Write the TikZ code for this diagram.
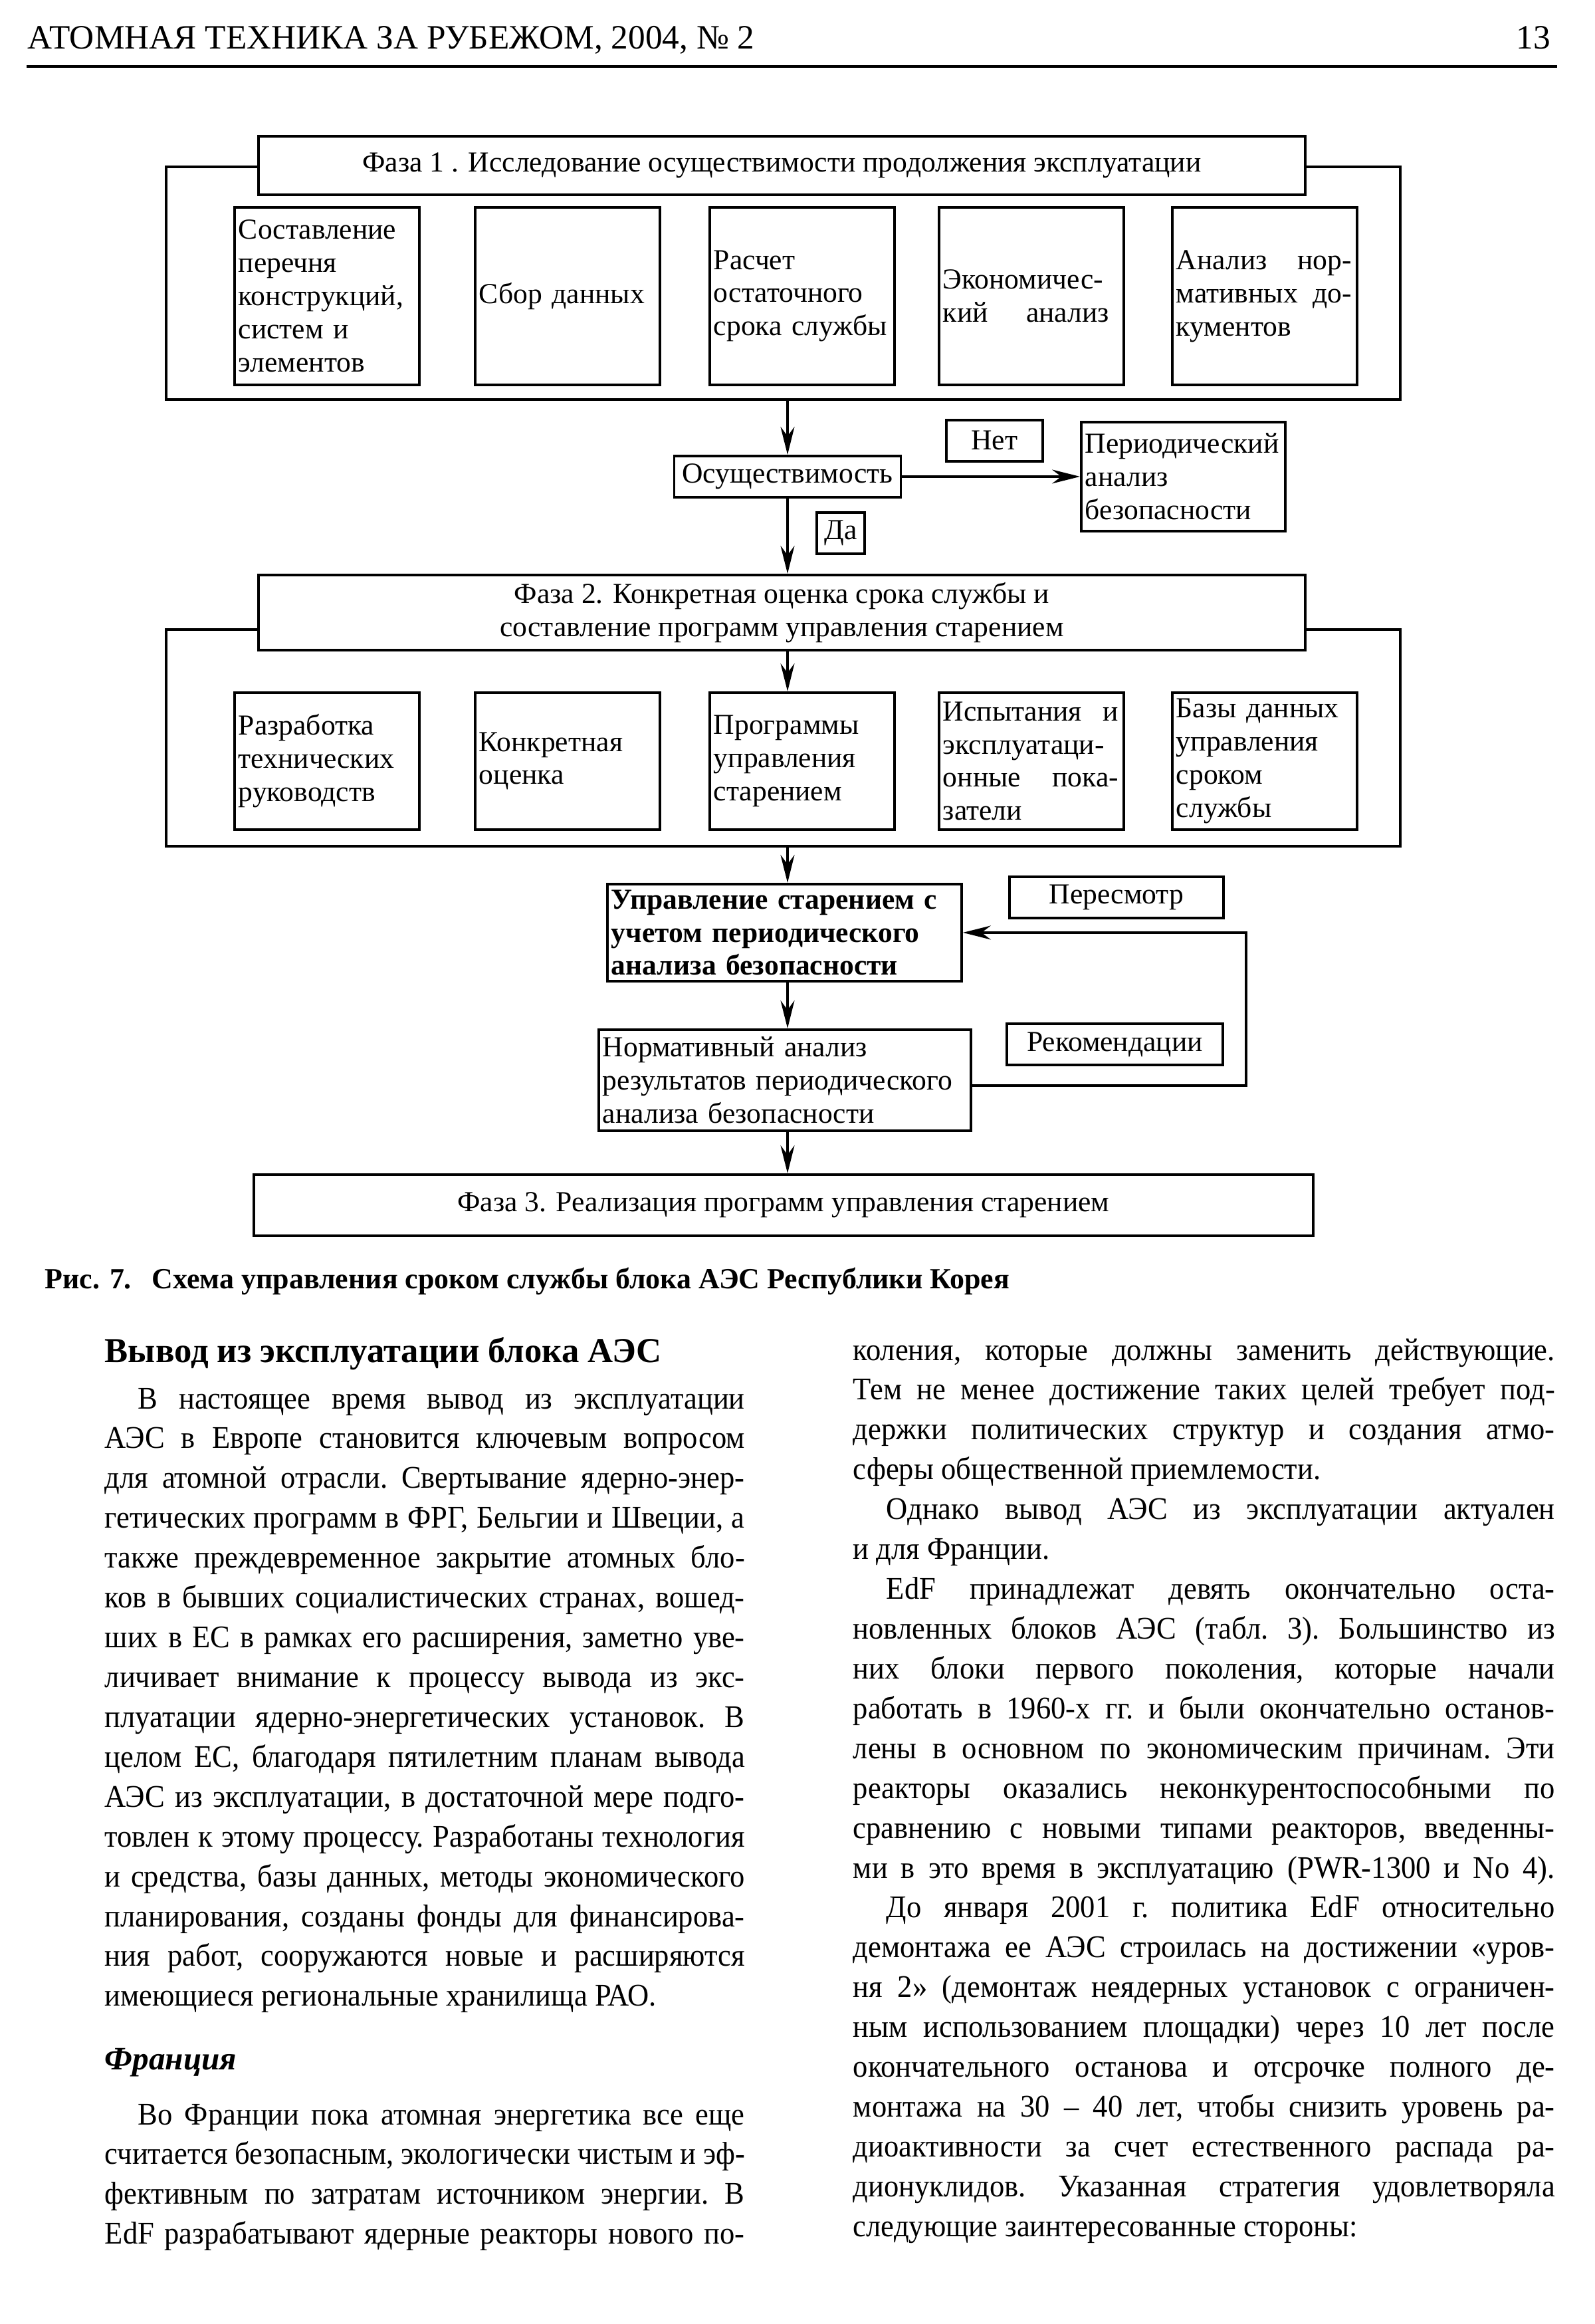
\documentclass[tikz,border=0pt]{standalone}
\usepackage{fontspec}
\setmainfont{Liberation Serif}
\newfontfamily\bodyfont{Liberation Serif}[FakeStretch=0.94]
\usetikzlibrary{arrows.meta, positioning, calc}

\newcommand{\headsize}{\fontsize{14.6}{16}\selectfont}
\newcommand{\boxsize}{\fontsize{12.4}{14.2}\selectfont}
\newcommand{\capsize}{\fontsize{12.5}{15}\selectfont}
\newcommand{\bodysize}{\bodyfont\fontsize{13.5}{17.05}\selectfont\frenchspacing}
% lines of the body text
\newcommand{\jl}[1]{\noindent\makebox[\linewidth][s]{#1}\par}
\newcommand{\il}[1]{\noindent\makebox[\linewidth][s]{\hspace*{0.5cm}#1}\par}
\newcommand{\el}[1]{\noindent\makebox[\linewidth][l]{#1}\par}

\begin{document}
\begin{tikzpicture}[line width=1pt,
  >={Stealth[length=4.2mm,width=2.1mm,inset=1.4mm]},
  every node/.style={font=\boxsize},
  box/.style={draw, line width=1.1pt, fill=white, inner ysep=0pt, inner xsep=0.06cm},
  phasebox/.style={box, anchor=north west, align=center},
  subbox/.style={box, anchor=north west, text width=2.66cm, align=left},
  tagbox/.style={box, anchor=north west, minimum height=0.62cm, align=center},
  plain/.style={inner sep=0pt, anchor=base west}]
\useasboundingbox (0,0) rectangle (24,-34.96);

%page head
\node[plain, font=\headsize] (hdr) at (0.40,-0.74) {АТОМНАЯ ТЕХНИКА ЗА РУБЕЖОМ, 2004, № 2};
\node[plain, anchor=base east, font=\headsize] (pg) at (23.35,-0.74) {13};
\draw[line width=1.3pt] (0.40,-1.00) -- (23.43,-1.00);

\coordinate (axis) at (11.85,0);

%phase 1
\coordinate (fr1nw) at (2.50,-2.51);
\coordinate (fr1se) at (21.07,-6.01);
\draw (fr1nw) rectangle (fr1se);
\node[phasebox, minimum width=15.75cm, minimum height=0.88cm] (ph1) at (3.87,-2.03)
  {Фаза 1 . Исследование осуществимости продолжения эксплуатации};
\foreach \n/\x/\t in {
    sA/3.51/{Составление\\перечня\\конструкций,\\систем и\\элементов},
    sB/7.13/{Сбор данных},
    sC/10.66/{Расчет\\остаточного\\срока службы},
    sD/14.11/{Экономичес-\\\makebox[2.5cm]{кий\hfill анализ}},
    sE/17.62/{\makebox[2.64cm]{Анализ\hfill нор-}\\\makebox[2.64cm]{мативных\hfill до-}\\кументов}
}
{
    \node[subbox, minimum height=2.67cm] (\n) at (\x,-3.10) {\t};
};

%feasibility
\node[box, anchor=north, minimum width=3.41cm, minimum height=0.62cm] (feas) at (axis |- 0,-6.84) {Осуществимость};
\draw[->] (axis |- fr1se) -- (feas.north);
\node[tagbox, minimum width=1.45cm] (no) at (14.22,-6.30) {Нет};
\node[box, anchor=north west, text width=2.95cm, minimum height=1.64cm, align=left] (psa) at (16.25,-6.33)
  {Периодический\\анализ\\безопасности};
\draw[->] (feas.east) -- (feas.east -| psa.west);
\node[tagbox, minimum width=0.72cm] (yes) at (12.27,-7.69) {Да};

%phase 2
\coordinate (fr2nw) at (2.50,-9.47);
\coordinate (fr2se) at (21.07,-12.73);
\draw (fr2nw) rectangle (fr2se);
\node[phasebox, minimum width=15.75cm, minimum height=1.13cm] (ph2) at (3.87,-8.63)
  {Фаза 2. Конкретная оценка срока службы и\\составление программ управления старением};
\draw[->] (feas.south) -- (axis |- ph2.north);
\foreach \n/\x/\t in {
    tA/3.51/{Разработка\\технических\\руководств},
    tB/7.13/{Конкретная\\оценка},
    tC/10.66/{Программы\\управления\\старением},
    tD/14.11/{\makebox[2.64cm]{Испытания\hfill и}\\эксплуатаци-\\\makebox[2.64cm]{онные\hfill пока-}\\затели},
    tE/17.62/{Базы данных\\управления\\сроком\\службы}
}
{
    \node[subbox, minimum height=2.06cm] (\n) at (\x,-10.40) {\t};
};
\draw[->] (axis |- ph2.south) -- (axis |- tC.north);

%ageing management
\node[box, anchor=north west, text width=5.21cm, minimum height=1.46cm, align=left, font=\boxsize\bfseries] (mgmt) at (9.12,-13.28)
  {Управление старением с\\учетом периодического\\анализа безопасности};
\draw[->] (axis |- fr2se) -- (axis |- mgmt.north);
\node[tagbox, minimum width=3.22cm] (rev) at (15.17,-13.17) {Пересмотр};
\node[box, anchor=north west, text width=5.48cm, minimum height=1.52cm, align=left] (norm) at (8.99,-15.47)
  {Нормативный анализ\\результатов периодического\\анализа безопасности};
\draw[->] (axis |- mgmt.south) -- (axis |- norm.north);
\node[tagbox, minimum width=3.25cm] (rec) at (15.13,-15.38) {Рекомендации};
\coordinate (fbk) at (18.75,-16.33);
\draw[->] (norm.east |- fbk) -- (fbk) |- (mgmt.east);

%phase 3
\node[phasebox, minimum width=15.94cm, minimum height=0.92cm] (ph3) at (3.80,-17.65)
  {Фаза 3. Реализация программ управления старением};
\draw[->] (axis |- norm.south) -- (axis |- ph3.north);

%caption
\node[plain, font=\capsize\bfseries] (cap) at (0.66,-19.38)
  {Рис. 7.\hspace{0.7em}Схема управления сроком службы блока АЭС Республики Корея};

%left column
\node[plain, font=\fontsize{15}{18}\selectfont\bfseries] (hA) at (1.56,-20.49) {Вывод из эксплуатации блока АЭС};
\node[plain] (colA) at (1.56,-21.19) {\parbox[t]{9.63cm}{\bodysize
  \il{В настоящее время вывод из эксплуатации}
  \jl{АЭС в Европе становится ключевым вопросом}
  \jl{для атомной отрасли. Свертывание ядерно-энер-}
  \jl{гетических программ в ФРГ, Бельгии и Швеции, а}
  \jl{также преждевременное закрытие атомных бло-}
  \jl{ков в бывших социалистических странах, вошед-}
  \jl{ших в ЕС в рамках его расширения, заметно уве-}
  \jl{личивает внимание к процессу вывода из экс-}
  \jl{плуатации ядерно-энергетических установок. В}
  \jl{целом ЕС, благодаря пятилетним планам вывода}
  \jl{АЭС из эксплуатации, в достаточной мере подго-}
  \jl{товлен к этому процессу. Разработаны технология}
  \jl{и средства, базы данных, методы экономического}
  \jl{планирования, созданы фонды для финансирова-}
  \jl{ния работ, сооружаются новые и расширяются}
  \el{имеющиеся региональные хранилища РАО.}}};
\node[plain, font=\fontsize{14}{16}\selectfont\bfseries\itshape] (hB) at (1.56,-31.13) {Франция};
\node[plain] (colB) at (1.56,-31.96) {\parbox[t]{9.63cm}{\bodysize
  \il{Во Франции пока атомная энергетика все еще}
  \jl{считается безопасным, экологически чистым и эф-}
  \jl{фективным по затратам источником энергии. В}
  \jl{EdF разрабатывают ядерные реакторы нового по-}}};

%right column
\node[plain] (colC) at (12.82,-20.46) {\parbox[t]{10.56cm}{\bodysize
  \jl{коления, которые должны заменить действующие.}
  \jl{Тем не менее достижение таких целей требует под-}
  \jl{держки политических структур и создания атмо-}
  \el{сферы общественной приемлемости.}
  \il{Однако вывод АЭС из эксплуатации актуален}
  \el{и для Франции.}
  \il{EdF принадлежат девять окончательно оста-}
  \jl{новленных блоков АЭС (табл. 3). Большинство из}
  \jl{них блоки первого поколения, которые начали}
  \jl{работать в 1960-х гг. и были окончательно останов-}
  \jl{лены в основном по экономическим причинам. Эти}
  \jl{реакторы оказались неконкурентоспособными по}
  \jl{сравнению с новыми типами реакторов, введенны-}
  \jl{ми в это время в эксплуатацию (PWR-1300 и No 4).}
  \il{До января 2001 г. политика EdF относительно}
  \jl{демонтажа ее АЭС строилась на достижении «уров-}
  \jl{ня 2» (демонтаж неядерных установок с ограничен-}
  \jl{ным использованием площадки) через 10 лет после}
  \jl{окончательного останова и отсрочке полного де-}
  \jl{монтажа на 30 – 40 лет, чтобы снизить уровень ра-}
  \jl{диоактивности за счет естественного распада ра-}
  \jl{дионуклидов. Указанная стратегия удовлетворяла}
  \el{следующие заинтересованные стороны:}}};
\end{tikzpicture}
\end{document}
